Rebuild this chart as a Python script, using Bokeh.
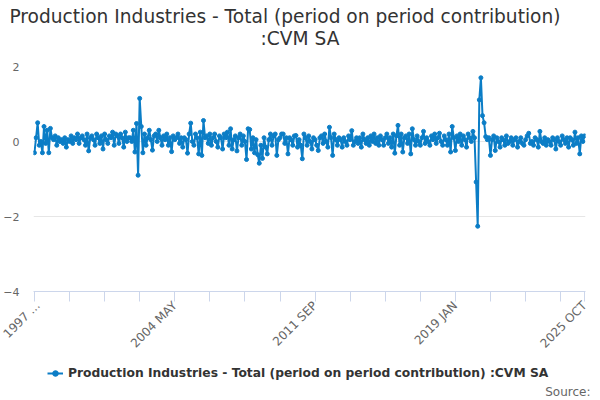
from bokeh.plotting import figure
from bokeh.layouts import column
from bokeh.models import Range1d, FixedTicker, Legend, LegendItem, Label, Div
from bokeh.embed import file_html
from bokeh.resources import INLINE
import math

title_line1 = "Production Industries - Total (period on period contribution)"
title_line2 = ":CVM SA"
series_name = "Production Industries - Total (period on period contribution) :CVM SA"
source_text = "Source:"

tick_labels = {0: "1997 ...", 88: "2004 MAY", 176: "2011 SEP", 264: "2019 JAN", 345: "2025 OCT"}
y_ticks = [-4, -2, 0, 2]

values = [
    -0.3, 0.1, 0.5, -0.1, 0.0, -0.3, 0.4, -0.05, 0.3, -0.3, 0.35, 0.1,
    0.05, 0.15, -0.1, 0.1, 0.0, 0.05, -0.05, 0.1, -0.15, 0.05, 0.0, 0.15,
    -0.05, 0.1, 0.05, 0.2, -0.05, 0.1, 0.15, 0.05, -0.1, 0.2, -0.25, 0.1,
    0.15, 0.05, -0.1, 0.2, 0.1, -0.05, 0.15, -0.2, 0.2, 0.05, -0.05, 0.15,
    0.1, 0.25, -0.1, 0.2, 0.15, -0.05, 0.2, 0.1, -0.15, 0.25, 0.0, 0.1,
    0.1, 0.0, 0.3, -0.28, 0.48, -0.9, 1.15, 0.4, -0.3, 0.2, -0.1, 0.1,
    0.3, 0.05, -0.23, 0.15, 0.2, 0.0, 0.3, 0.1, -0.1, 0.15, 0.05, 0.2,
    -0.1, 0.1, -0.27, 0.15, 0.05, 0.1, 0.2, -0.05, 0.1, -0.15, 0.1, 0.05,
    -0.31, 0.2, 0.49, 0.0, -0.1, 0.2, 0.1, -0.33, 0.25, -0.37, 0.56, 0.1,
    0.15, -0.05, 0.2, -0.1, 0.1, 0.2, 0.0, -0.15, 0.15, 0.1, -0.2, 0.2,
    0.1, 0.25, -0.1, 0.34, -0.2, 0.05, 0.15, -0.25, 0.1, 0.2, -0.1, 0.15,
    0.0, -0.48, 0.34, 0.32, -0.2, 0.1, -0.3, 0.05, -0.35, -0.58, -0.1, -0.45,
    0.1, -0.15, -0.33, 0.05, 0.2, -0.1, 0.15, 0.2, -0.37, 0.05, 0.1, 0.2,
    0.2, -0.05, 0.1, -0.33, 0.1, 0.05, -0.1, 0.15, 0.16, -0.15, 0.05, -0.1,
    -0.46, 0.2, 0.1, -0.1, 0.15, 0.0, -0.2, 0.1, 0.05, -0.1, -0.24, 0.1,
    0.15, -0.05, 0.2, 0.0, -0.15, 0.38, 0.1, -0.37, 0.2, 0.05, -0.1, 0.1,
    0.05, -0.15, 0.1, 0.0, -0.1, 0.15, 0.05, 0.29, -0.1, 0.0, 0.1, -0.05,
    0.1, -0.15, 0.2, 0.05, -0.05, 0.1, -0.1, 0.15, 0.0, 0.2, -0.05, 0.1,
    -0.1, 0.15, 0.05, -0.1, 0.1, 0.2, -0.05, 0.1, -0.15, 0.2, -0.31, 0.15,
    0.43, -0.1, 0.2, -0.28, 0.1, 0.15, -0.05, 0.2, -0.33, 0.34, 0.05, -0.1,
    0.15, 0.0, -0.1, 0.1, 0.27, -0.05, 0.1, 0.0, -0.1, 0.15, 0.05, 0.2,
    -0.05, 0.1, 0.22, 0.0, -0.1, 0.15, 0.05, -0.1, 0.2, -0.28, 0.4, 0.1,
    -0.24, 0.15, 0.0, 0.2, -0.1, 0.15, 0.05, -0.15, 0.2, 0.1, 0.0, 0.27,
    0.1, -1.08, -2.26, 1.11, 1.70, 0.69, 0.5, 0.13, 0.05, 0.1, -0.37, 0.05,
    0.15, -0.24, 0.1, 0.0, -0.15, 0.1, 0.05, -0.1, 0.15, -0.05, 0.0, 0.1,
    -0.1, 0.05, 0.1, -0.15, 0.0, 0.1, -0.05, -0.1, 0.05, 0.15, 0.22, -0.05,
    0.0, -0.1, 0.1, 0.05, -0.15, 0.27, 0.0, -0.05, 0.1, -0.1, 0.05, 0.0,
    -0.1, 0.1, 0.05, -0.2, 0.1, 0.0, -0.1, 0.15, 0.05, -0.05, 0.1, -0.15,
    0.1, 0.05, -0.1, 0.25, -0.05, 0.1, -0.33, 0.15, 0.0, 0.15,
]
months = list(range(len(values)))

FONT = "DejaVu Sans"
BLUE = "#0b7dc6"

# title strip
title_div = Div(
    text=('<div style="width:584px;font-family:\'DejaVu Sans\';font-size:18.6px;'
          'line-height:22px;color:#333333;margin:0;padding:6px 0 0 0;">'
          '<div style="text-align:center;padding-right:14px;">' + title_line1 + '</div>'
          '<div style="text-align:center;padding-left:16px;">' + title_line2 + '</div>'
          '</div>'),
    width=584, height=58, margin=(0, 0, 0, 0))

# main chart
p = figure(width=590, height=307, output_backend="svg", toolbar_location=None,
           x_range=Range1d(-0.6, len(values) - 0.4), y_range=Range1d(-4, 2),
           min_border_left=31, min_border_right=5, min_border_top=8, min_border_bottom=74,
           title=None)
p.outline_line_color = None
p.background_fill_color = "white"
p.border_fill_color = "white"

line_r = p.line(months, values, line_color=BLUE, line_width=2)
dot_r = p.scatter(months, values, size=4, fill_color=BLUE, line_color=BLUE)

xt = list(range(0, 345, 22)) + [345]
p.xaxis.ticker = FixedTicker(ticks=xt)
p.xaxis.major_label_overrides = {t: tick_labels.get(t, "") for t in xt}
p.xaxis.major_label_orientation = math.pi / 4
p.xaxis.major_label_standoff = 2
p.xaxis.axis_line_color = "#ccd6eb"
p.xaxis.major_tick_line_color = "#ccd6eb"
p.xaxis.major_tick_out = 10
p.xaxis.major_tick_in = 0
p.xaxis.minor_tick_line_color = None
p.xaxis.major_label_text_font = FONT
p.xaxis.major_label_text_font_size = "12px"
p.xaxis.major_label_text_color = "#666666"
p.xgrid.visible = False

p.yaxis.ticker = FixedTicker(ticks=y_ticks)
p.yaxis.axis_line_color = None
p.yaxis.major_tick_line_color = None
p.yaxis.minor_tick_line_color = None
p.yaxis.major_label_text_font = FONT
p.yaxis.major_label_text_font_size = "11px"
p.yaxis.major_label_text_color = "#666666"
p.yaxis.major_label_standoff = 8
p.ygrid.ticker = FixedTicker(ticks=y_ticks)
p.ygrid.grid_line_color = "#e6e6e6"

# legend + source strip
q = figure(width=592, height=33, output_backend="svg", toolbar_location=None,
           x_range=Range1d(0, 10), y_range=Range1d(0, 10),
           x_axis_location=None, y_axis_location=None,
           min_border_left=0, min_border_right=0, min_border_top=0, min_border_bottom=0)
q.outline_line_color = None
q.xgrid.visible = False
q.ygrid.visible = False

has_fa = "frame_align" in q.properties()
if has_fa:
    p.frame_align = False
    q.frame_align = False
    leg_x, src_x = 47, 590
else:
    leg_x, src_x = 19, 549

leg_line = q.line([-100, -90], [-100, -100], line_color=BLUE, line_width=2)
leg_dot = q.scatter([-95], [-100], size=4, fill_color=BLUE, line_color=BLUE)
legend = Legend(items=[LegendItem(label=series_name, renderers=[leg_line, leg_dot])],
                orientation="horizontal", location=(leg_x, 18), border_line_color=None,
                background_fill_alpha=0,
                label_text_font=FONT, label_text_font_size="12.3px", label_text_font_style="bold",
                label_text_color="#333333", glyph_width=16, glyph_height=14, label_height=14,
                label_standoff=5, padding=0, margin=0)
q.add_layout(legend, "center")
q.add_layout(Label(x=src_x, y=7, x_units="screen", y_units="screen", text=source_text,
                   text_align="right", text_baseline="middle", text_font=FONT,
                   text_font_size="12px", text_color="#666666"))

layout = column(title_div, p, q, spacing=0)
open("out.html", "w").write(file_html(layout, INLINE))
